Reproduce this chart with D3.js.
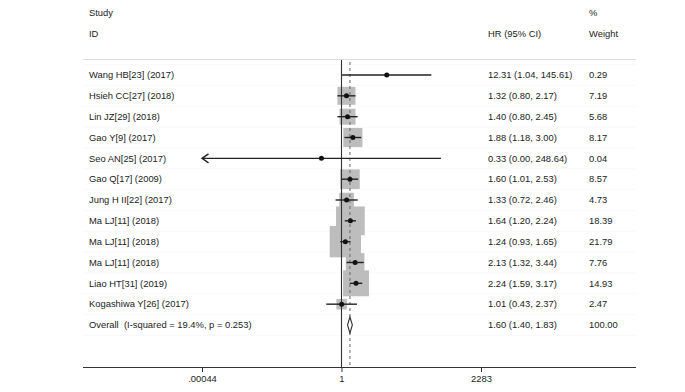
<!DOCTYPE html>
<html><head><meta charset="utf-8">
<script src="https://cdn.jsdelivr.net/npm/d3@7"></script>
<style>body{margin:0;background:#fff}svg{display:block}text{font-family:"Liberation Sans",Arial,sans-serif;fill:#222}</style>
</head><body><svg id="c" width="685" height="392"></svg>
<script>
const studies = ["Wang HB[23] (2017)","Hsieh CC[27] (2018)","Lin JZ[29] (2018)","Gao Y[9] (2017)","Seo AN[25] (2017)","Gao Q[17] (2009)","Jung H II[22] (2017)","Ma LJ[11] (2018)","Ma LJ[11] (2018)","Ma LJ[11] (2018)","Liao HT[31] (2019)","Kogashiwa Y[26] (2017)"];
const hr     = [12.31,1.32,1.40,1.88,0.33,1.60,1.33,1.64,1.24,2.13,2.24,1.01];
const lower  = [1.04,0.80,0.80,1.18,0.00,1.01,0.72,1.20,0.93,1.32,1.59,0.43];
const upper  = [145.61,2.17,2.45,3.00,248.64,2.53,2.46,2.24,1.65,3.44,3.17,2.37];
const weight = [0.29,7.19,5.68,8.17,0.04,8.57,4.73,18.39,21.79,7.76,14.93,2.47];
const overallLabel = "Overall  (I-squared = 19.4%, p = 0.253)";
const overall = {hr:1.60, lower:1.40, upper:1.83, weight:100.00};
const tickValues = [0.00044, 1, 2283];
const tickLabels = [".00044", "1", "2283"];

const svg = d3.select("#c");
const fs = 9.4;
const x = d3.scaleLog().domain([0.00044, 2283]).range([202, 481]);
const y = d3.scaleLinear().domain([0, studies.length]).range([75, 325]);
const fmt = d3.format(".2f");

// very faint row separators
svg.append("g").selectAll("line").data(d3.range(studies.length+2)).join("line")
  .attr("x1",83).attr("x2",636)
  .attr("y1",d=>y(d)-10.4).attr("y2",d=>y(d)-10.4)
  .attr("stroke","#f9f9f9").attr("stroke-width",1);

// header
const hdr = svg.append("g").attr("font-size",fs);
hdr.append("text").attr("x",89).attr("y",13).attr("dy","0.35em").text("Study");
hdr.append("text").attr("x",89).attr("y",33.5).attr("dy","0.35em").text("ID");
hdr.append("text").attr("x",488).attr("y",33.5).attr("dy","0.35em").text("HR (95% CI)");
hdr.append("text").attr("x",589).attr("y",13).attr("dy","0.35em").text("%");
hdr.append("text").attr("x",589).attr("y",33.5).attr("dy","0.35em").text("Weight");
svg.append("line").attr("x1",83).attr("x2",636).attr("y1",59.5).attr("y2",59.5)
  .attr("stroke","#dcdcdc").attr("stroke-width",1);

// axis
const axisY = 367;
const ax = svg.append("g").attr("transform",`translate(0,${axisY})`)
  .call(d3.axisBottom(x).tickValues(tickValues).tickFormat((d,i)=>tickLabels[i]).tickSizeOuter(0).tickSize(5).tickPadding(3));
ax.select(".domain").remove();
ax.selectAll(".tick line").attr("stroke","#333");
ax.selectAll("text").attr("font-size",fs).attr("fill","#222").attr("font-family","Liberation Sans, Arial, sans-serif");
svg.append("line").attr("x1",83).attr("x2",636).attr("y1",axisY+0.5).attr("y2",axisY+0.5).attr("stroke","#333").attr("stroke-width",1);

// boxes
const k = 6.7;
svg.append("g").selectAll("rect").data(studies.map((s,i)=>i)).join("rect")
  .attr("x",i=>x(hr[i]) - k*Math.sqrt(weight[i])/2)
  .attr("y",i=>y(i) - k*Math.sqrt(weight[i])/2)
  .attr("width",i=>k*Math.sqrt(weight[i]))
  .attr("height",i=>k*Math.sqrt(weight[i]))
  .attr("fill","#bdbdbd");

// reference lines
svg.append("line").attr("x1",Math.round(x(1))+0.5).attr("x2",Math.round(x(1))+0.5).attr("y1",60).attr("y2",axisY)
  .attr("stroke","#333").attr("stroke-width",1.1);
svg.append("line").attr("x1",x(overall.hr)).attr("x2",x(overall.hr)).attr("y1",62).attr("y2",axisY)
  .attr("stroke","#666").attr("stroke-width",1).attr("stroke-dasharray","3,3");

// CI lines
const dmin = x.domain()[0], dmax = x.domain()[1];
const ci = svg.append("g").attr("stroke","#222").attr("stroke-width",1.4).attr("fill","none");
studies.forEach((s,i)=>{
  const lo = Math.max(lower[i], dmin), hi = Math.min(upper[i], dmax);
  ci.append("line").attr("x1",x(lo)).attr("x2",x(hi)).attr("y1",y(i)).attr("y2",y(i));
  if (lower[i] < dmin) {
    const xa = x(dmin);
    ci.append("path").attr("d",`M${xa+6.5},${y(i)-4.5}L${xa},${y(i)}L${xa+6.5},${y(i)+4.5}`);
  }
});
svg.append("g").selectAll("circle").data(studies.map((s,i)=>i)).join("circle")
  .attr("cx",i=>x(hr[i])).attr("cy",i=>y(i)).attr("r",2.5).attr("fill","#111");

// diamond
const yo = y(studies.length);
svg.append("path")
  .attr("d",`M${x(overall.lower)},${yo}L${x(overall.hr)},${yo-8}L${x(overall.upper)},${yo}L${x(overall.hr)},${yo+8}Z`)
  .attr("fill","#fff").attr("stroke","#333").attr("stroke-width",1.1);

// labels
const lab = svg.append("g").attr("font-size",fs);
studies.forEach((s,i)=>{
  lab.append("text").attr("x",89).attr("y",y(i)).attr("dy","0.35em").text(s);
  lab.append("text").attr("x",488).attr("y",y(i)).attr("dy","0.35em").text(`${fmt(hr[i])} (${fmt(lower[i])}, ${fmt(upper[i])})`);
  lab.append("text").attr("x",589).attr("y",y(i)).attr("dy","0.35em").text(fmt(weight[i]));
});
lab.append("text").attr("x",89).attr("y",yo).attr("dy","0.35em").style("white-space","pre").text(overallLabel);
lab.append("text").attr("x",488).attr("y",yo).attr("dy","0.35em").text(`${fmt(overall.hr)} (${fmt(overall.lower)}, ${fmt(overall.upper)})`);
lab.append("text").attr("x",589).attr("y",yo).attr("dy","0.35em").text(fmt(overall.weight));
</script></body></html>
